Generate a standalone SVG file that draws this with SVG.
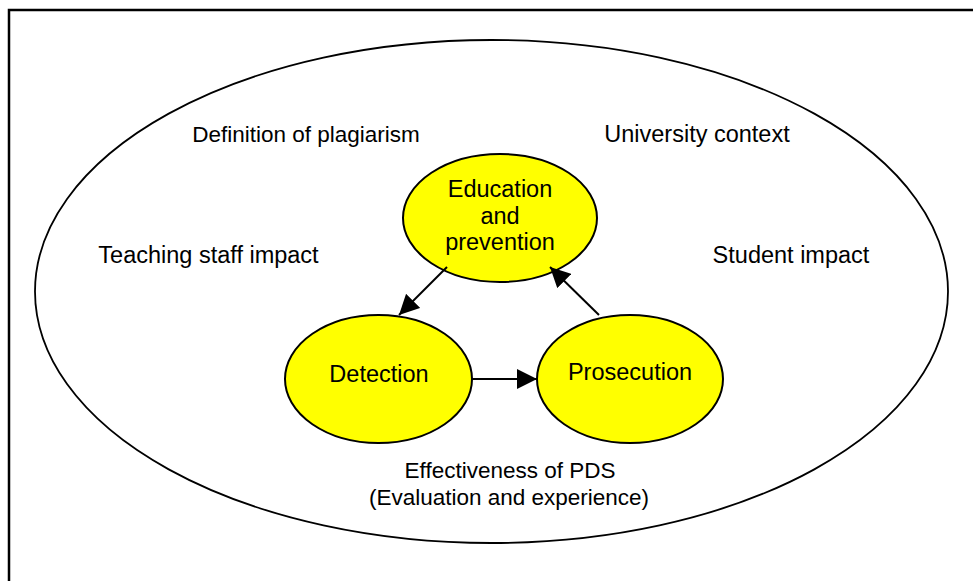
<svg xmlns="http://www.w3.org/2000/svg" width="973" height="581" viewBox="0 0 973 581">
<defs>
<style>
text{font-family:"Liberation Sans",Arial,sans-serif;font-size:22.5px;fill:#000;text-anchor:middle}
.lbl{font-size:23.5px}
.node{fill:#ffff00;stroke:#000;stroke-width:2}
.edge{stroke:#000;stroke-width:2;fill:none}
</style>
<marker id="ah" markerWidth="20" markerHeight="20" viewBox="0 0 20 20" refX="20" refY="10" orient="auto" markerUnits="userSpaceOnUse">
<path d="M0,0 L20,10 L0,20 Z" fill="#000"/>
</marker>
</defs>
<rect width="973" height="581" fill="#fff"/>
<rect x="9" y="10" width="990" height="620" fill="none" stroke="#000" stroke-width="2.5"/>
<g id="context">
<ellipse cx="491.5" cy="291.5" rx="456.5" ry="251.5" fill="none" stroke="#000" stroke-width="1.8"/>
<text x="306" y="142">Definition of plagiarism</text>
<text x="697" y="142" class="lbl">University context</text>
<text x="208.5" y="263" class="lbl">Teaching staff impact</text>
<text x="791" y="263" class="lbl">Student impact</text>
<text x="510" y="478">Effectiveness of PDS</text>
<text x="509" y="505">(Evaluation and experience)</text>
</g>
<g id="education">
<ellipse class="node" cx="500" cy="218" rx="97" ry="64"/>
<text x="500" y="197" class="lbl">Education</text>
<text x="500" y="224" class="lbl">and</text>
<text x="500" y="250" class="lbl">prevention</text>
</g>
<g id="detection">
<ellipse class="node" cx="378.5" cy="379" rx="93.5" ry="64"/>
<text x="379" y="382" class="lbl">Detection</text>
</g>
<g id="prosecution">
<ellipse class="node" cx="630" cy="379" rx="93" ry="64"/>
<text x="630" y="380" class="lbl">Prosecution</text>
</g>
<g id="connectors">
<line class="edge" x1="447" y1="267" x2="399" y2="315" marker-end="url(#ah)"/>
<line class="edge" x1="472" y1="379" x2="537" y2="379" marker-end="url(#ah)"/>
<line class="edge" x1="599" y1="315" x2="550" y2="267" marker-end="url(#ah)"/>
</g>
</svg>
